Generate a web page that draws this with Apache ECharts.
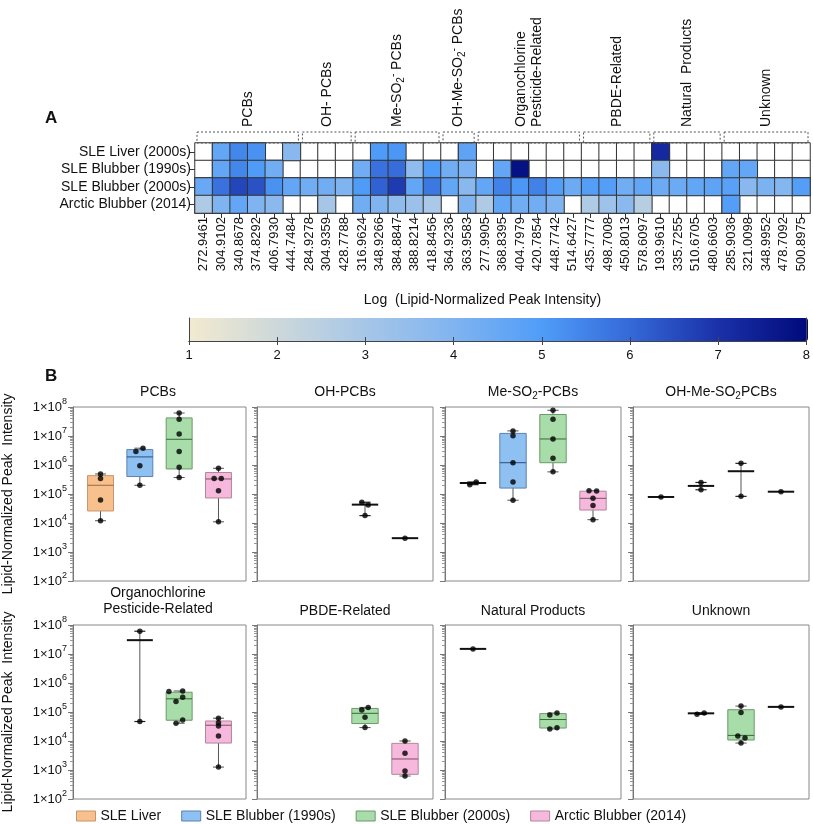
<!DOCTYPE html>
<html><head><meta charset="utf-8">
<script src="https://cdn.jsdelivr.net/npm/echarts@6/dist/echarts.min.js"></script>
<style>html,body{margin:0;padding:0;background:#fff}#c{width:813px;height:824px}</style>
</head><body><div id="c"></div>
<script>
// ---------------- Panel A data ----------------
const mzLabels = ['272.9461','304.9102','340.8678','374.8292','406.7930','444.7484',
  '284.9278','304.9359','428.7788',
  '316.9624','348.9266','384.8847','388.8214','418.8456',
  '364.9236','363.9583',
  '277.9905','368.8395','404.7979','420.7854','448.7742','514.6427',
  '435.7777','498.7008','450.8013','578.6097',
  '193.9610','335.7255','510.6705','480.6603',
  '285.9036','321.0098','348.9952','478.7092','500.8975'];
const sampleRows = ['SLE Liver (2000s)','SLE Blubber (1990s)','SLE Blubber (2000s)','Arctic Blubber (2014)'];
const classLabels = ['PCBs','OH- PCBs','Me-SO{sub|2}{sup|-} PCBs','OH-Me-SO{sub|2}{sup|-} PCBs',
  'Organochlorine\nPesticide-Related','PBDE-Related','Natural  Products','Unknown'];
const classSizes = [6,3,5,2,6,4,4,5];
const heatLiver   = [null,4.6,5.4,5.2,null,3.8, null,null,null, null,5.0,5.1,null,null, null,4.7, null,null,null,null,null,null, null,null,null,null, 7.2,null,null,null, null,null,null,null,null];
const heatBlub90  = [null,4.6,5.4,5.0,4.3,null, null,null,null, 4.3,5.8,5.9,3.6,5.0, 4.3,4.1, null,4.6,7.8,null,null,null, null,null,null,null, 3.7,null,null,null, 4.6,4.6,null,null,null];
const heatBlub00  = [4.5,5.8,6.6,6.4,5.2,4.6, 4.3,4.3,4.0, 5.0,6.1,6.8,4.6,5.7, 4.6,3.8, 4.6,5.5,5.1,5.5,4.9,4.4, 4.9,4.9,4.3,4.6, 4.4,4.4,4.6,4.7, 4.8,3.8,4.1,3.9,4.9];
const heatArctic  = [2.8,4.0,4.6,4.0,3.7,null, null,3.0,null, 4.3,4.0,3.6,3.3,2.9, null,4.0, 2.8,4.6,4.3,4.3,4.0,null, 2.8,3.2,3.7,2.6, null,null,null,null, 4.9,null,null,null,null];
const colorbarMin = 1, colorbarMax = 8;
const colorbarColors = ['#f3ead0','#cdd8da','#a6c6e8','#80b4f0','#4f9cf8','#3468d8','#1a30a8','#000a7a'];

// ---------------- Panel B data ----------------
const groups = ['SLE Liver','SLE Blubber (1990s)','SLE Blubber (2000s)','Arctic Blubber (2014)'];
const panelTitles = ['PCBs','OH-PCBs','Me-SO{sub|2}-PCBs','OH-Me-SO{sub|2}PCBs',
  'Organochlorine\nPesticide-Related','PBDE-Related','Natural Products','Unknown'];
// points per group (values), jitter (category units), boxes [min,q1,median,q3,max]
const pcbsPts = [[4.9e5,3.4e5,6.2e4,1.2e4],[3.8e6,2.9e6,9.5e5,2.0e5],[6.2e7,3.8e7,1.17e7,2.9e6,8.3e5,3.7e5],[7.7e5,3.4e5,3.4e5,1.3e5,1.1e4]];
const pcbsJit = [[0,0,0,0],[0.08,-0.1,0,0],[0,0,0,0,0,0],[0,-0.11,0.07,0,0]];
const pcbsBox = [[1.2e4,2.6e4,2.0e5,4.3e5,4.9e5],[2.0e5,4.0e5,1.9e6,3.4e6,3.8e6],[3.7e5,7.3e5,7.7e6,4.2e7,6.2e7],[1.1e4,7.3e4,3.3e5,5.5e5,7.7e5]];

const ohPcbsPts = [[],[],[5.2e4,4.2e4,1.8e4],[3.0e3]];
const ohPcbsJit = [[],[],[-0.08,0.08,0],[0]];
const ohPcbsBox = [null,null,[1.8e4,4.3e4,4.3e4,4.3e4,5.2e4],[3.0e3,3.0e3,3.0e3,3.0e3,3.0e3]];

const meso2Pts = [[2.1e5,2.6e5],[1.5e7,1.03e7,1.2e6,2.6e5,6.1e4],[7.7e7,3.8e7,7.9e6,1.7e6,5.8e5],[1.3e5,1.27e5,7.1e4,4.0e4,1.3e4]];
const meso2Jit = [[-0.08,0.08],[0,0,0,0,0],[0,0,0,0,0],[-0.1,0.09,0,0,0]];
const meso2Box = [[2.1e5,2.4e5,2.4e5,2.4e5,2.6e5],[6.1e4,1.6e5,1.2e6,1.23e7,1.5e7],[5.8e5,1.2e6,7.9e6,5.5e7,7.7e7],[1.3e4,2.8e4,7.1e4,1.25e5,1.3e5]];

const ohMeso2Pts = [[7.9e4],[2.5e5,1.4e5],[1.14e6,8.3e4],[1.2e5]];
const ohMeso2Jit = [[0],[0,0],[0,0],[0]];
const ohMeso2Box = [[7.9e4,7.9e4,7.9e4,7.9e4,7.9e4],[1.4e5,1.9e5,1.9e5,1.9e5,2.5e5],[8.3e4,6.1e5,6.1e5,6.1e5,1.14e6],[1.2e5,1.2e5,1.2e5,1.2e5,1.2e5]];

const ocPts = [[],[6.1e7,4.7e4],[5.1e5,5.3e5,3.2e5,2.3e5,5.3e4,4.1e4],[6.1e4,4.3e4,3.3e4,1.5e4,1.26e3]];
const ocJit = [[],[0,0],[-0.26,0.09,0.09,-0.08,0.09,-0.08],[0,0,0,0,0]];
const ocBox = [null,[4.7e4,3.0e7,3.0e7,3.0e7,6.1e7],[4.1e4,5.2e4,2.85e5,4.8e5,5.3e5],[1.26e3,8.5e3,3.5e4,4.9e4,6.1e4]];

const pbdePts = [[],[],[1.17e5,1.44e5,6.6e4,2.9e4],[1.0e4,3.8e3,9.2e2,6.2e2]];
const pbdeJit = [[],[],[-0.08,0.08,0,0],[0,0,0,0]];
const pbdeBox = [null,null,[2.9e4,4.0e4,9.0e4,1.33e5,1.44e5],[6.2e2,7.1e2,2.4e3,8.3e3,1.0e4]];

const natPts = [[1.5e7],[],[7.9e4,9.2e4,2.6e4,2.85e4],[]];
const natJit = [[0],[],[-0.08,0.1,-0.08,0.1],[]];
const natBox = [[1.5e7,1.5e7,1.5e7,1.5e7,1.5e7],null,[2.6e4,2.8e4,5.5e4,8.8e4,9.2e4],null];

const unkPts = [[],[8.3e4,9.2e4],[1.6e5,9.7e4,1.5e4,1.26e4,8.5e3],[1.5e5]];
const unkJit = [[],[-0.1,0.08],[0,0,-0.08,0.1,0],[0]];
const unkBox = [null,[8.3e4,9.0e4,9.0e4,9.0e4,9.2e4],[8.5e3,1.08e4,1.56e4,1.2e5,1.6e5],[1.5e5,1.5e5,1.5e5,1.5e5,1.5e5]];

const yTickLabels = ['1×10{sup|2}','1×10{sup|3}','1×10{sup|4}','1×10{sup|5}','1×10{sup|6}','1×10{sup|7}','1×10{sup|8}'];

// ---------------- styling ----------------
const FONT = 'Liberation Sans, Arial, Helvetica, sans-serif';
const groupFill = ['#f7c08c','#8ec0f2','#a8dca8','#f6b8dc'];
const groupBorder = ['#c8946c','#5a82b0','#6a9a6a','#b08898'];
const groupMedian = ['#9a6a4a','#2a5080','#3a6a3a','#805060'];
const rich = {
  sub: {fontSize: 10, padding: [8,0,0,0], fontFamily: FONT},
  sup: {fontSize: 10, padding: [0,0,8,0], fontFamily: FONT}
};

const panels = [
  [pcbsPts,pcbsJit,pcbsBox],[ohPcbsPts,ohPcbsJit,ohPcbsBox],[meso2Pts,meso2Jit,meso2Box],[ohMeso2Pts,ohMeso2Jit,ohMeso2Box],
  [ocPts,ocJit,ocBox],[pbdePts,pbdeJit,pbdeBox],[natPts,natJit,natBox],[unkPts,unkJit,unkBox]
];
const panelLefts = [70,257,445,633];
const panelTops = [407,625];
const panelW = 176, panelH = 174;

const grids = [], xAxes = [], yAxes = [], series = [], titles = [];

// heatmap grid
grids.push({left:195, top:143, width:615, height:70});
xAxes.push({gridIndex:0, type:'category', data: mzLabels, position:'bottom',
  axisLine:{show:true, lineStyle:{color:'#333'}},
  axisTick:{show:true, alignWithLabel:true, interval:0, length:5, lineStyle:{color:'#333'}},
  axisLabel:{rotate:90, interval:0, fontSize:13, color:'#111', margin:4, fontFamily:FONT},
  splitLine:{show:false},
  name:'Log  (Lipid-Normalized Peak Intensity)', nameLocation:'middle', nameGap:80,
  nameTextStyle:{fontSize:14, color:'#111', padding:[0,40,0,0], fontFamily:FONT}});
yAxes.push({gridIndex:0, type:'category', data: sampleRows, inverse:true,
  axisLine:{show:true, lineStyle:{color:'#333'}},
  axisTick:{show:true, alignWithLabel:true, interval:0, length:5, lineStyle:{color:'#333'}},
  axisLabel:{interval:0, fontSize:14, color:'#111', margin:4, fontFamily:FONT}, splitLine:{show:false}});

// colorbar grid (axes only; bar drawn by visualMap)
grids.push({left:189, top:318, width:619, height:23});
xAxes.push({gridIndex:1, type:'value', min:colorbarMin, max:colorbarMax, interval:1, position:'bottom', z:10,
  axisLine:{show:true, lineStyle:{color:'#444'}}, axisTick:{show:true, inside:true, length:4, lineStyle:{color:'#444'}},
  axisLabel:{fontSize:13, color:'#111', margin:8, fontFamily:FONT}, splitLine:{show:false}});
xAxes.push({gridIndex:1, type:'value', min:colorbarMin, max:colorbarMax, interval:1, position:'top', z:10,
  axisLine:{show:true, lineStyle:{color:'#444'}}, axisTick:{show:true, inside:true, length:4, lineStyle:{color:'#444'}},
  axisLabel:{show:false}, splitLine:{show:false}});
yAxes.push({gridIndex:1, type:'value', min:0, max:1, position:'left', z:10, axisLine:{show:true, lineStyle:{color:'#444'}},
  axisTick:{show:false}, axisLabel:{show:false}, splitLine:{show:false}});
yAxes.push({gridIndex:1, type:'value', min:0, max:1, position:'right', z:10, axisLine:{show:true, lineStyle:{color:'#444'}},
  axisTick:{show:false}, axisLabel:{show:false}, splitLine:{show:false}});

// heatmap series
const heatRows = [heatLiver, heatBlub90, heatBlub00, heatArctic];
const bgData = [], valData = [];
heatRows.forEach((row, r) => row.forEach((v, c) => {
  bgData.push([c, r, 0]);
  if (v !== null) valData.push([c, r, v]);
}));
series.push({type:'heatmap', xAxisIndex:0, yAxisIndex:0, data:bgData, silent:true, z:1,
  itemStyle:{color:'#ffffff', borderColor:'#333', borderWidth:1}, emphasis:{disabled:true}});
series.push({type:'heatmap', xAxisIndex:0, yAxisIndex:0, data:valData, silent:true, z:2,
  itemStyle:{borderColor:'#333', borderWidth:1}, emphasis:{disabled:true}});

// class brackets
const bracketData = [];
let start = 0;
classSizes.forEach((n, i) => { bracketData.push([start, start + n - 1, i, 0]); start += n; });
series.push({type:'custom', xAxisIndex:0, yAxisIndex:0, data:bracketData, silent:true, z:5,
  encode:{x:[0,1], y:3},
  renderItem: function(params, api) {
    const s = api.value(0), e = api.value(1), idx = api.value(2);
    const cs = params.coordSys;
    const bw = api.size([1, 0])[0];
    const x0 = api.coord([s, 0])[0] - bw/2 + 2;
    const x1 = api.coord([e, 0])[0] + bw/2 - 2;
    const top = cs.y - 11;
    return {type:'group', children:[
      {type:'rect', shape:{x:x0, y:top, width:x1-x0, height:11},
        style:{fill:'none', stroke:'#555', lineWidth:1, lineDash:[2,2]}},
      {type:'text', x:(x0+x1)/2, y:top-5, rotation:Math.PI/2,
        style:{text:classLabels[idx], fontSize:14, fontFamily:FONT, fill:'#111',
          align:'left', verticalAlign:'middle', lineHeight:16, rich:rich}}
    ]};
  }});

// panels B
function boxRenderer(g) {
  return function(params, api) {
    const x = api.value(0);
    const mn = api.value(1), q1 = api.value(2), md = api.value(3), q3 = api.value(4), mx = api.value(5);
    const c = (xx, yy) => api.coord([xx, yy]);
    const half = 0.33, cap = 0.14;
    const ch = [];
    const ln = (a, b, color, w) => ({type:'line', shape:{x1:a[0], y1:a[1], x2:b[0], y2:b[1]}, style:{stroke:color, lineWidth:w}});
    if (q3 > q1) {
      ch.push(ln(c(x, mx), c(x, q3), '#555', 1));
      ch.push(ln(c(x, q1), c(x, mn), '#555', 1));
      if (mx > q3) ch.push(ln(c(x-cap, mx), c(x+cap, mx), '#555', 1));
      if (mn < q1) ch.push(ln(c(x-cap, mn), c(x+cap, mn), '#555', 1));
      const a = c(x-half, q3), b = c(x+half, q1);
      ch.push({type:'rect', shape:{x:a[0], y:a[1], width:b[0]-a[0], height:b[1]-a[1]},
        style:{fill:groupFill[g], stroke:groupBorder[g], lineWidth:1}});
      ch.push(ln(c(x-half, md), c(x+half, md), groupMedian[g], 1));
    } else {
      if (mx > mn) {
        ch.push(ln(c(x, mx), c(x, mn), '#555', 1));
        if (mx > md) ch.push(ln(c(x-cap, mx), c(x+cap, mx), '#222', 1.2));
        if (mn < md) ch.push(ln(c(x-cap, mn), c(x+cap, mn), '#222', 1.2));
      }
      ch.push(ln(c(x-half, md), c(x+half, md), '#111', 2));
    }
    return {type:'group', children:ch};
  };
}

const yName = 'Lipid-Normalized Peak  Intensity';
panels.forEach((p, i) => {
  const col = i % 4, row = Math.floor(i / 4);
  const gi = grids.length;
  grids.push({left:panelLefts[col], top:panelTops[row], width:panelW, height:panelH,
    show:true, borderColor:'#888', borderWidth:1, backgroundColor:'transparent'});
  const xi = xAxes.length, yi = yAxes.length;
  xAxes.push({gridIndex:gi, type:'value', min:0.3, max:4.7, show:false});
  yAxes.push({gridIndex:gi, type:'log', logBase:10, min:100, max:1e8, splitNumber:6,
    axisLine:{show:true, lineStyle:{color:'#777'}},
    axisTick:{show:true, length:5, lineStyle:{color:'#777'}},
    minorTick:{show:true, splitNumber:9, length:3, lineStyle:{color:'#999'}},
    splitLine:{show:false},
    axisLabel:{show: col === 0, fontSize:13, color:'#111', margin:6, fontFamily:FONT,
      formatter: v => yTickLabels[Math.round(Math.log10(v)) - 2],
      rich:{sup:{fontSize:9, padding:[0,0,10,0], fontFamily:FONT}}},
    name: col === 0 ? yName : '', nameLocation:'middle', nameGap:58,
    nameTextStyle:{fontSize:14, color:'#111', fontFamily:FONT}});
  const [pts, jit, boxes] = p;
  boxes.forEach((b, g) => {
    if (!b) return;
    series.push({type:'custom', name:groups[g], xAxisIndex:xi, yAxisIndex:yi, silent:true, z:3,
      itemStyle:{color:groupFill[g], borderColor:groupBorder[g], borderWidth:1},
      encode:{x:0, y:[1,2,3,4,5]},
      data:[[g + 1].concat(b)], renderItem: boxRenderer(g)});
  });
  const sd = [];
  pts.forEach((arr, g) => arr.forEach((v, k) => sd.push([g + 1 + jit[g][k], v])));
  series.push({type:'scatter', name:'pts' + i, xAxisIndex:xi, yAxisIndex:yi, data:sd, symbolSize:5.5,
    itemStyle:{color:'#000'}, silent:true, z:6});
  const isTwo = panelTitles[i].indexOf('\n') >= 0;
  titles.push({text:panelTitles[i], left:panelLefts[col] + panelW/2, top: row === 0 ? 384 : (isTwo ? 585 : 603),
    textAlign:'center', padding:0,
    textStyle:{fontSize:14, fontWeight:'normal', color:'#111', fontFamily:FONT, lineHeight:16, rich:rich}});
});

titles.push({text:'A', left:45, top:110, padding:0, textStyle:{fontSize:17, fontWeight:'bold', color:'#111', fontFamily:FONT}});
titles.push({text:'B', left:45, top:368, padding:0, textStyle:{fontSize:17, fontWeight:'bold', color:'#111', fontFamily:FONT}});

const option = {
  animation:false,
  backgroundColor:'#fff',
  textStyle:{fontFamily:FONT},
  title: titles,
  grid: grids,
  xAxis: xAxes,
  yAxis: yAxes,
  visualMap: {type:'continuous', min:colorbarMin, max:colorbarMax, orient:'horizontal',
    left:189, top:318, itemWidth:23, itemHeight:619, calculable:false, seriesIndex:1, dimension:2,
    inRange:{color:colorbarColors}, padding:0, hoverLink:false, realtime:false, z:4},
  legend: {data:groups, left:71, top:804, itemWidth:19, itemHeight:10, itemGap:20, icon:'rect',
    textStyle:{fontSize:14, color:'#111', fontFamily:FONT}, selectedMode:false,
    itemStyle:{borderWidth:1}},
  series: series
};
const chart = echarts.init(document.getElementById('c'));
chart.setOption(option);
</script></body></html>
